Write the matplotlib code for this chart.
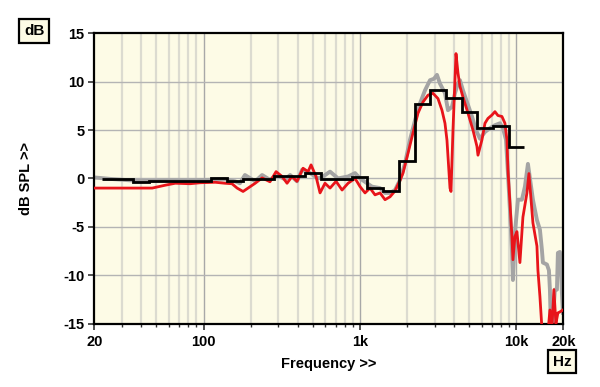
import numpy as np
import matplotlib
matplotlib.use("Agg")
import matplotlib.pyplot as plt
from matplotlib.ticker import FixedLocator, NullFormatter

plt.rcParams['font.family'] = ['Liberation Sans', 'DejaVu Sans']
plt.rcParams['font.weight'] = 'bold'

# red trace (Hz, dB)
red_f = [20, 47, 57, 66, 82, 95, 119, 137, 152, 164, 179, 214, 237, 266, 291, 318,
         342, 368, 396, 433, 466, 487, 524, 556, 598, 644, 704, 769, 840, 931, 1002,
         1078, 1160, 1249, 1345, 1447, 1558, 1676, 1805, 1886, 2030, 2184, 2352, 2532,
         2724, 2932, 3156, 3346, 3498, 3602, 3766, 3822, 3936, 4114, 4236, 4362, 4560,
         4908, 5282, 5602, 5686, 6030, 6302, 6586, 6984, 7300, 7630, 8092, 8458, 8710,
         8840, 9102, 9374, 9514, 9798, 10090, 10544, 11020, 11692, 12040, 12770, 13546,
         13746, 14156, 14578, 15236, 15924, 16398, 16886, 17392, 17912, 18446, 18994, 19854]
red_db = [-1.0, -1.0, -0.7, -0.5, -0.55, -0.45, -0.4, -0.5, -0.55, -1.0, -1.35, -0.5, 0.05,
          -0.35, 0.7, 0.2, -0.5, 0.2, -0.3, 1.05, 0.7, 1.4, 0.2, -1.5, -0.5, -1.0, -0.3,
          -1.2, -0.5, 0.0, -0.85, -1.5, -1.0, -1.7, -1.5, -2.2, -1.9, -1.3, -0.2, 0.55,
          2.6, 4.7, 6.75, 7.9, 8.6, 8.8, 8.25, 7.05, 5.7, 3.95, -1.0, -1.35, 5.0, 12.9,
          10.9, 9.5, 8.4, 6.75, 5.0, 3.3, 2.4, 4.0, 5.7, 6.2, 6.55, 6.9, 6.5, 6.4, 5.7,
          4.0, 0.9, -2.5, -6.0, -8.4, -6.0, -5.5, -8.7, -4.0, -1.5, 0.5, -4.6, -7.0,
          -9.5, -12.2, -15.5, -17.0, -16.0, -13.6, -15.5, -11.5, -15.0, -13.9, -13.8, -13.6]

# grey trace (Hz, dB)
grey_f = [20, 25.3, 34, 45.6, 61, 82, 110, 137, 159, 171, 184, 214, 237, 266, 295, 332,
          358, 396, 427, 480, 540, 581, 644, 725, 840, 931, 1002, 1110, 1195, 1345, 1447,
          1558, 1676, 1805, 1942, 2090, 2250, 2422, 2606, 2806, 2976, 3110, 3250, 3498,
          3656, 3878, 4052, 4236, 4362, 4560, 4836, 5206, 5520, 5856, 6302, 6782, 7300,
          7858, 8212, 8584, 8840, 9102, 9374, 9514, 9798, 10240, 10860, 11350, 11864,
          12770, 13546, 14156, 14578, 14792, 15692, 16162, 16398, 16640, 16886, 17650,
          18180, 18446, 18994, 19276, 19560, 19854]
grey_db = [0.1, -0.05, -0.2, -0.25, -0.2, -0.2, -0.15, -0.1, -0.3, -0.5, 0.35, -0.3, 0.35,
           -0.15, 0.35, -0.1, 0.35, -0.3, 0.9, 0.55, 0.0, 0.2, 0.7, 0.0, 0.2, 0.55, 0.0,
           -0.5, -0.85, -1.0, -1.5, -1.5, -1.2, -0.15, 1.55, 4.0, 6.0, 7.75, 9.1, 10.15,
           10.3, 10.7, 9.8, 8.8, 7.05, 7.4, 8.8, 9.8, 10.15, 9.1, 7.9, 6.4, 5.0, 4.1, 4.8,
           5.2, 5.5, 5.7, 5.2, 4.0, 0.5, -3.2, -7.4, -10.5, -5.6, -2.2, -2.2, -0.85, 1.5,
           -2.2, -4.3, -5.3, -7.4, -8.7, -8.9, -9.5, -11.5, -15.5, -16.0, -11.5, -11.5,
           -7.7, -7.6, -9.1, -11.8, -13.9]

# third-octave averaged response (black)
band_hz = [25, 31.5, 40, 50, 63, 80, 100, 125, 160, 200, 250, 315, 400, 500, 630, 800,
           1000, 1250, 1600, 2000, 2500, 3150, 4000, 5000, 6300, 8000, 10000]
band_db = [-0.1, -0.1, -0.4, -0.25, -0.25, -0.25, -0.25, 0.0, -0.25, -0.1, -0.1, 0.25,
           0.25, 0.55, -0.1, -0.1, 0.1, -1.0, -1.3, 1.75, 7.65, 9.1, 8.3, 6.9, 5.25, 5.4, 3.2]

x_major = [20, 100, 1000, 10000, 20000]
x_major_lbl = ['20', '100', '1k', '10k', '20k']
y_ticks = [-15, -10, -5, 0, 5, 10, 15]

fig = plt.figure(figsize=(6, 3.87), dpi=100)
ax = fig.add_axes([0.157, 0.164, 0.782, 0.75])
ax.set_facecolor('#fdfbe6')

ax.set_xscale('log')
ax.set_xlim(20, 20000)
ax.set_ylim(-15, 15)

# grid lines
minor = [m * 10 ** e for e in range(1, 5) for m in range(2, 10) if 20 < m * 10 ** e < 20000]
for v in minor:
    ax.axvline(v, color='#dcdbd0', lw=1.6, zorder=0)
for v in [100, 1000, 10000]:
    ax.axvline(v, color='#a8a8a8', lw=1.0, zorder=0)
for v in y_ticks[1:-1]:
    ax.axhline(v, color='#b4b4b4', lw=1.0, zorder=0)

c = np.array(band_hz, dtype=float)
edges = np.concatenate([[c[0] / 2 ** (1 / 6)], np.sqrt(c[:-1] * c[1:]), [c[-1] * 2 ** (1 / 6)]])

ax.plot(grey_f, grey_db, color='#a4a4a4', lw=2.8, zorder=2, solid_joinstyle='round')
ax.plot(red_f, red_db, color='#e8141a', lw=2.0, zorder=3, solid_joinstyle='round')
ax.stairs(band_db, edges, color='black', lw=2.0, zorder=4, baseline=None)

ax.xaxis.set_major_locator(FixedLocator(x_major))
ax.set_xticklabels(x_major_lbl)
ax.xaxis.set_minor_locator(FixedLocator(minor))
ax.xaxis.set_minor_formatter(NullFormatter())
ax.set_yticks(y_ticks)
ax.set_yticklabels([str(v) for v in y_ticks])

ax.tick_params(axis='both', which='major', labelsize=10.5, length=4, width=1.2,
               color='#333333', pad=3)
ax.tick_params(axis='x', which='minor', length=2.5, width=1.0, color='#333333')
ax.tick_params(axis='x', which='major', pad=4)
for s in ax.spines.values():
    s.set_linewidth(1.6)
    s.set_color('black')

ax.set_xlabel('Frequency >>', fontsize=10.5, fontweight='bold')
ax.set_ylabel('dB SPL >>', fontsize=10.5, fontweight='bold')
ax.xaxis.set_label_coords(0.5, -0.115)
ax.yaxis.set_label_coords(-0.13, 0.5)

box = dict(boxstyle='square,pad=0.3', facecolor='#fdfbe6', edgecolor='black', linewidth=1.6)
fig.text(0.057, 0.92, 'dB', fontsize=11, fontweight='bold', ha='center', va='center', bbox=box)
fig.text(0.937, 0.065, 'Hz', fontsize=11, fontweight='bold', ha='center', va='center', bbox=box)

fig.savefig('out.png', dpi=100)
